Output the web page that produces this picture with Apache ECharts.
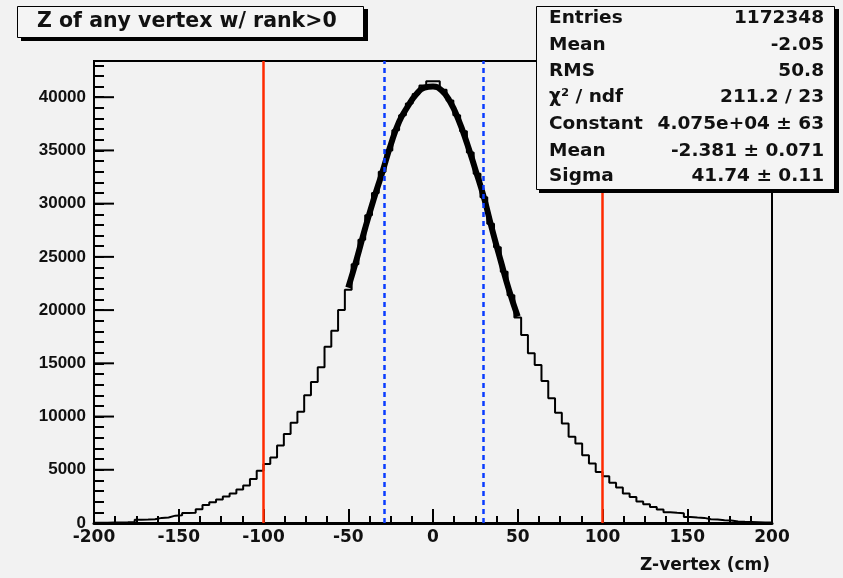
<!DOCTYPE html>
<html><head><meta charset="utf-8">
<script src="https://cdn.jsdelivr.net/npm/echarts@6/dist/echarts.min.js"></script>
<style>html,body{margin:0;padding:0;background:#f2f2f2;}#c{width:843px;height:578px;}</style>
</head><body><div id="c"></div>
<script>
// ---- data ----
const binStart = -200;
const binWidth = 4;
// bin contents, 100 bins of 4 cm from -200 to 200
const counts = [
  20, 30, 40, 50, 70, 100, 300, 320, 350, 480,
  520, 690, 720, 930, 960, 1300, 1700, 1950, 2200, 2500,
  2770, 3150, 3520, 4140, 4900, 5550, 6150, 7280, 8350, 9410,
  10450, 11990, 13240, 14620, 16560, 18070, 20020, 21900, 24300, 26600,
  28900, 31000, 33000, 35000, 36900, 38300, 39400, 40300, 41100, 41500,
  41500, 40700, 39700, 38300, 36800, 34800, 32800, 30600, 28100, 25900,
  23600, 21400, 19300, 17670, 15940, 14840, 13340, 11710, 10350, 9350,
  8100, 7470, 6370, 5590, 4800, 4400, 3770, 3330, 2770, 2450,
  2010, 1760, 1510, 1260, 1010, 960, 920, 570, 520, 480,
  350, 320, 260, 240, 150, 110, 90, 70, 50, 40
];
// fitted gaussian curve (drawn -50..50)
const fitZ = [-50, -45, -40, -35, -30, -25, -20, -15, -10, -5, 0, 5, 10, 15, 20, 25, 30, 35, 40, 45, 50];
const fitY = [22100, 24800, 27700, 30400, 32900, 35500, 37700, 39100, 40250, 40900, 41000, 40650, 39600, 37900, 35700, 33200, 30600, 27500, 24600, 21800, 19400];
const cutLines = [-100, 100];
const windowLines = [-28.7, 29.7];
const xMin = -200, xMax = 200, xStep = 50;
const yMin = 0, yMax = 43400, yStep = 5000, yMinorStep = 1000;
const yMajorTicks = [0, 5000, 10000, 15000, 20000, 25000, 30000, 35000, 40000];
const titleText = 'Z of any vertex w/ rank>0';
const xTitle = 'Z-vertex (cm)';
const statsLabels = ['Entries', 'Mean', 'RMS', 'χ² / ndf', 'Constant', 'Mean', 'Sigma'];
const statsValues = ['1172348', '-2.05', '50.8', '211.2 / 23', '4.075e+04 ± 63', '-2.381 ± 0.071', '41.74 ± 0.11'];

// ---- build ----
const histData = counts.map((v, i) => [binStart + i * binWidth, v]);
histData.push([binStart + counts.length * binWidth, counts[counts.length - 1]]);
const fitData = fitZ.map((z, i) => [z, fitY[i]]);

const GL = 94, GT = 61, GR = 71, GB = 55;
const FONT = '"DejaVu Sans", sans-serif';

function vline(x) { return [{ coord: [x, yMin] }, { coord: [x, yMax] }]; }

const graphic = [];
// title box
graphic.push({ type: 'rect', shape: { x: 21, y: 9, width: 347, height: 32 }, style: { fill: '#000' }, z: 100 });
graphic.push({ type: 'rect', shape: { x: 17.5, y: 6.5, width: 346, height: 31 }, style: { fill: '#f4f4f4', stroke: '#000', lineWidth: 1 }, z: 101 });
graphic.push({ type: 'text', x: 37, y: 22, style: { text: titleText, font: 'bold 20.5px ' + FONT, fill: '#111', textAlign: 'left', textVerticalAlign: 'middle', verticalAlign: 'middle' }, z: 102 });
// stats box
graphic.push({ type: 'rect', shape: { x: 539, y: 9, width: 300, height: 184 }, style: { fill: '#000' }, z: 100 });
graphic.push({ type: 'rect', shape: { x: 536.5, y: 6.5, width: 298, height: 183 }, style: { fill: '#f4f4f4', stroke: '#000', lineWidth: 1 }, z: 101 });
const rowY = [18, 45, 71, 97, 124, 151, 176];
statsLabels.forEach((t, i) => {
  graphic.push({ type: 'text', x: 549, y: rowY[i], style: { text: t, font: 'bold 18.5px ' + FONT, fill: '#111', textAlign: 'left', textVerticalAlign: 'middle', verticalAlign: 'middle' }, z: 102 });
  graphic.push({ type: 'text', x: 824, y: rowY[i], style: { text: statsValues[i], font: 'bold 18.5px ' + FONT, fill: '#111', textAlign: 'right', textVerticalAlign: 'middle', verticalAlign: 'middle' }, z: 102 });
});
// x axis title
graphic.push({ type: 'text', x: 770, y: 566, style: { text: xTitle, font: 'bold 17px ' + FONT, fill: '#111', textAlign: 'right', textVerticalAlign: 'middle', verticalAlign: 'middle' }, z: 102 });

const chart = echarts.init(document.getElementById('c'), null, { renderer: 'canvas' });
chart.setOption({
  animation: false,
  backgroundColor: '#f2f2f2',
  grid: { left: GL, top: GT, right: GR, bottom: GB, show: true, borderColor: '#000', borderWidth: 2, backgroundColor: 'transparent' },
  xAxis: {
    type: 'value', min: xMin, max: xMax, interval: xStep,
    axisLine: { show: true, onZero: false, lineStyle: { color: '#000', width: 3 } },
    axisTick: { show: true, inside: true, length: 14, lineStyle: { color: '#000', width: 2 } },
    minorTick: { show: true, splitNumber: 4, length: 7, lineStyle: { color: '#000', width: 2 } },
    splitLine: { show: false },
    axisLabel: { show: true, margin: 6, color: '#111', fontFamily: 'DejaVu Sans', fontWeight: 'bold', fontSize: 17 }
  },
  yAxis: {
    type: 'value', min: yMin, max: yMax, interval: yMinorStep,
    axisLine: { show: true, onZero: false, lineStyle: { color: '#000', width: 2 } },
    axisTick: { show: true, inside: true, length: 10, lineStyle: { color: '#000', width: 2 } },
    splitLine: { show: false },
    axisLabel: { show: true, margin: 8, color: '#111', fontFamily: 'Liberation Sans', fontWeight: 'bold', fontSize: 17,
      formatter: v => (v % yStep === 0 ? String(v) : '') }
  },
  series: [
    {
      type: 'line', data: histData, step: 'end', symbol: 'none',
      lineStyle: { color: '#000', width: 2 }, z: 3
    },
    {
      type: 'line', data: fitData, smooth: true, symbol: 'none',
      lineStyle: { color: '#000', width: 6 }, z: 4
    },
    {
      type: 'line', data: [], z: 5,
      markLine: {
        silent: true, symbol: ['none', 'none'], label: { show: false }, animation: false,
        data: cutLines.map(vline),
        lineStyle: { color: '#ff2a00', width: 2.5, type: 'solid' }
      }
    },
    {
      type: 'line', data: [], z: 6,
      markLine: {
        silent: true, symbol: ['none', 'none'], label: { show: false }, animation: false,
        data: windowLines.map(vline),
        lineStyle: { color: '#0a3cff', width: 2.5, type: [5, 4] }
      }
    }
  ],
  graphic: graphic
});
// long major ticks on the y axis, positioned through the axis scale
const majorTickGraphics = yMajorTicks.map(v => {
  const p = chart.convertToPixel({ gridIndex: 0 }, [xMin, v]);
  return { type: 'line', shape: { x1: p[0], y1: p[1], x2: p[0] + 20, y2: p[1] }, style: { stroke: '#000', lineWidth: 2 }, z: 50 };
});
chart.setOption({ graphic: graphic.concat(majorTickGraphics) });
</script>
</body></html>
